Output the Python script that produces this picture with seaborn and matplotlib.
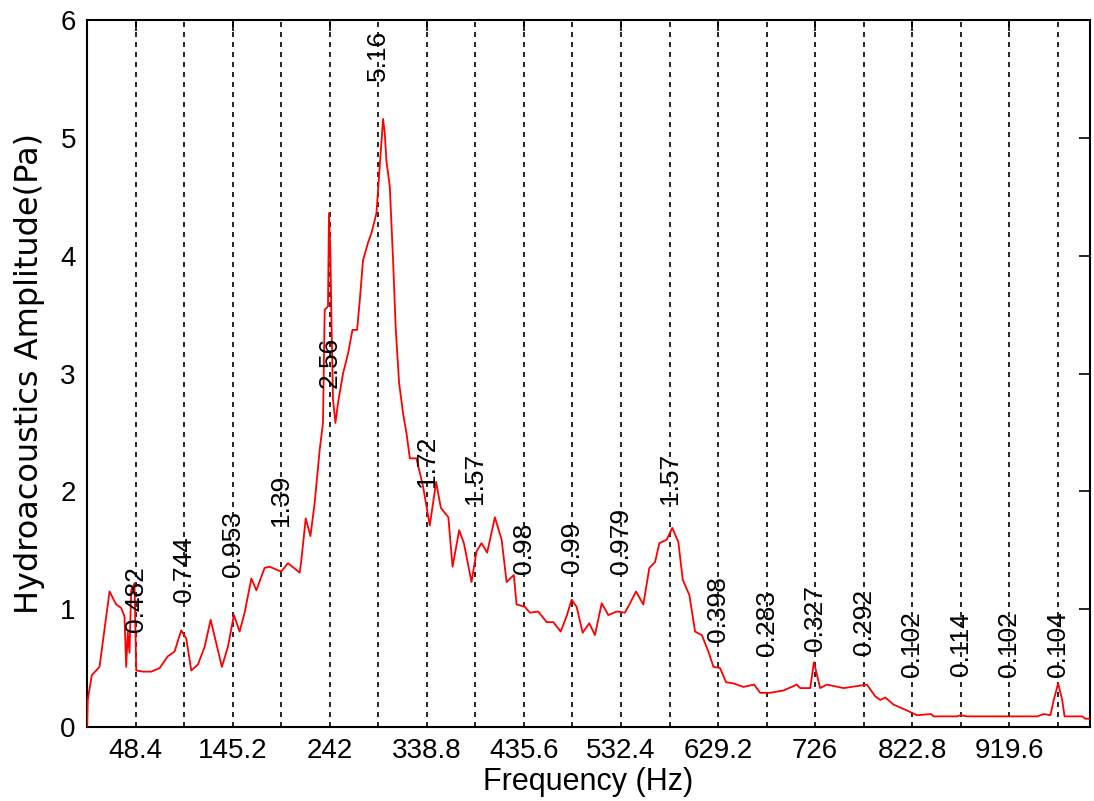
import numpy as np
import pandas as pd
import matplotlib
matplotlib.use("Agg")
import matplotlib.pyplot as plt
import seaborn as sns

# spectrum
freq = [0.2, 0.8, 4.8, 12.5, 22.5, 29.1, 34.1, 37.4, 39.1, 40.7, 42.4, 44.1, 47.4, 49.1,
        55.7, 64.1, 72.4, 80.6, 87.3, 94.0, 99.0, 104.0, 110.6, 117.3, 123.3, 128.9,
        134.5, 140.5, 146.5, 152.2, 157.2, 163.9, 168.9, 177.1, 182.1, 190.4, 193.8,
        200.4, 212.1, 213.8, 218.1, 222.8, 227.0, 232.0, 235.3, 237.0, 240.3, 241.3,
        242.7, 243.7, 245.3, 247.7, 250.3, 255.3, 260.3, 264.7, 269.3, 272.0, 275.2,
        280.2, 283.6, 288.6, 291.9, 295.2, 296.9, 298.6, 301.9, 305.2, 307.9, 311.2,
        315.2, 318.6, 321.9, 328.5, 335.1, 341.8, 348.1, 352.8, 360.3, 364.5, 371.1,
        375.8, 383.4, 388.4, 393.4, 399.0, 406.7, 413.4, 418.4, 425.6, 428.3, 436.6,
        441.6, 449.9, 458.3, 464.9, 472.3, 478.2, 483.2, 488.2, 494.2, 500.8, 506.5,
        513.2, 519.8, 528.1, 536.4, 541.4, 547.4, 554.7, 560.7, 566.4, 570.7, 578.0,
        583.6, 589.6, 594.0, 600.6, 606.3, 613.0, 619.6, 624.6, 631.2, 637.2, 644.5,
        654.5, 665.2, 671.2, 681.1, 694.4, 707.8, 711.1, 721.1, 724.8, 731.0, 737.7,
        754.3, 777.6, 785.9, 790.9, 795.9, 804.2, 817.6, 827.5, 841.6, 844.1, 867.5,
        870.8, 877.4, 947.3, 953.9, 960.6, 963.9, 968.3, 972.3, 974.7, 992.2, 995.5,
        1000.0]
amp = [0.0, 0.23, 0.44, 0.51, 1.15, 1.04, 1.01, 0.94, 0.51, 0.80, 0.63, 1.16, 1.22, 0.48,
       0.47, 0.47, 0.50, 0.60, 0.64, 0.82, 0.75, 0.48, 0.53, 0.68, 0.91, 0.71,
       0.51, 0.68, 0.95, 0.81, 0.97, 1.26, 1.16, 1.35, 1.36, 1.33, 1.32,
       1.39, 1.31, 1.42, 1.77, 1.62, 1.90, 2.35, 2.58, 3.54, 3.57, 4.36,
       4.02, 3.48, 2.78, 2.58, 2.75, 3.00, 3.17, 3.37, 3.37, 3.62, 3.96,
       4.11, 4.19, 4.36, 4.76, 5.16, 5.04, 4.80, 4.59, 3.96, 3.37, 2.92,
       2.66, 2.49, 2.28, 2.28, 2.04, 1.71, 2.08, 1.86, 1.78, 1.36, 1.67,
       1.56, 1.23, 1.49, 1.56, 1.48, 1.78, 1.59, 1.23, 1.29, 1.04, 1.02,
       0.97, 0.98, 0.89, 0.89, 0.81, 0.94, 1.08, 1.02, 0.80, 0.88, 0.78,
       1.05, 0.95, 0.98, 0.97, 1.05, 1.15, 1.04, 1.35, 1.40, 1.56, 1.59,
       1.69, 1.57, 1.25, 1.12, 0.81, 0.78, 0.64, 0.51, 0.50, 0.38, 0.37,
       0.34, 0.36, 0.29, 0.29, 0.31, 0.36, 0.33, 0.33, 0.55, 0.33, 0.36,
       0.33, 0.36, 0.26, 0.23, 0.25, 0.19, 0.14, 0.10, 0.11, 0.09, 0.09,
       0.10, 0.09, 0.09, 0.11, 0.10, 0.23, 0.37, 0.23, 0.09, 0.09, 0.07,
       0.07]

# harmonics of 48.4 Hz and the amplitude written next to each
harmonics = [48.4 * k for k in range(1, 21)]
peak_labels = ["0.482", "0.744", "0.953", "1.39", "2.56", "5.16", "1.72", "1.57",
               "0.98", "0.99", "0.979", "1.57", "0.398", "0.283", "0.327", "0.292",
               "0.102", "0.114", "0.102", "0.104"]
tick_pos = [48.4, 145.2, 242, 338.8, 435.6, 532.4, 629.2, 726, 822.8, 919.6]
tick_text = ["48.4", "145.2", "242", "338.8", "435.6", "532.4", "629.2", "726", "822.8", "919.6"]

df = pd.DataFrame({"freq": freq, "amp": amp})

sns.set_style("white")
plt.rcParams["font.family"] = ["Liberation Sans", "DejaVu Sans"]
plt.rcParams["text.color"] = "black"
plt.rcParams["axes.labelcolor"] = "black"

fig = plt.figure(figsize=(10.94, 8.01), dpi=100)
ax = fig.add_axes([0.0795, 0.0924, 0.9168, 0.8826])

for h in harmonics:
    ax.axvline(h, color="black", lw=1.2, ls=(0, (3, 3)), zorder=1)

sns.lineplot(data=df, x="freq", y="amp", color="red", lw=1.3, estimator=None,
             sort=False, ax=ax, zorder=3)

for h, lab in zip(harmonics, peak_labels):
    ax.text(h, float(lab) + 0.32, lab, rotation=90, ha="center", va="bottom",
            fontsize=19, color="black", zorder=4)

ax.set_xlim(0, 1000)
ax.set_ylim(0, 6)
ax.set_xticks(tick_pos)
ax.set_xticklabels(tick_text)
ax.set_yticks(range(7))
ax.tick_params(direction="in", length=8, width=1.2, labelsize=20, colors="black",
               top=True, right=True, pad=8)
for s in ax.spines.values():
    s.set_color("black")
    s.set_linewidth(1.5)

ax.set_xlabel("Frequency (Hz)", fontsize=22, labelpad=2)
ax.set_ylabel("Hydroacoustics Amplitude(Pa)", fontsize=23, labelpad=11,
              family=["DejaVu Sans"])

fig.savefig("out.png", dpi=100)
